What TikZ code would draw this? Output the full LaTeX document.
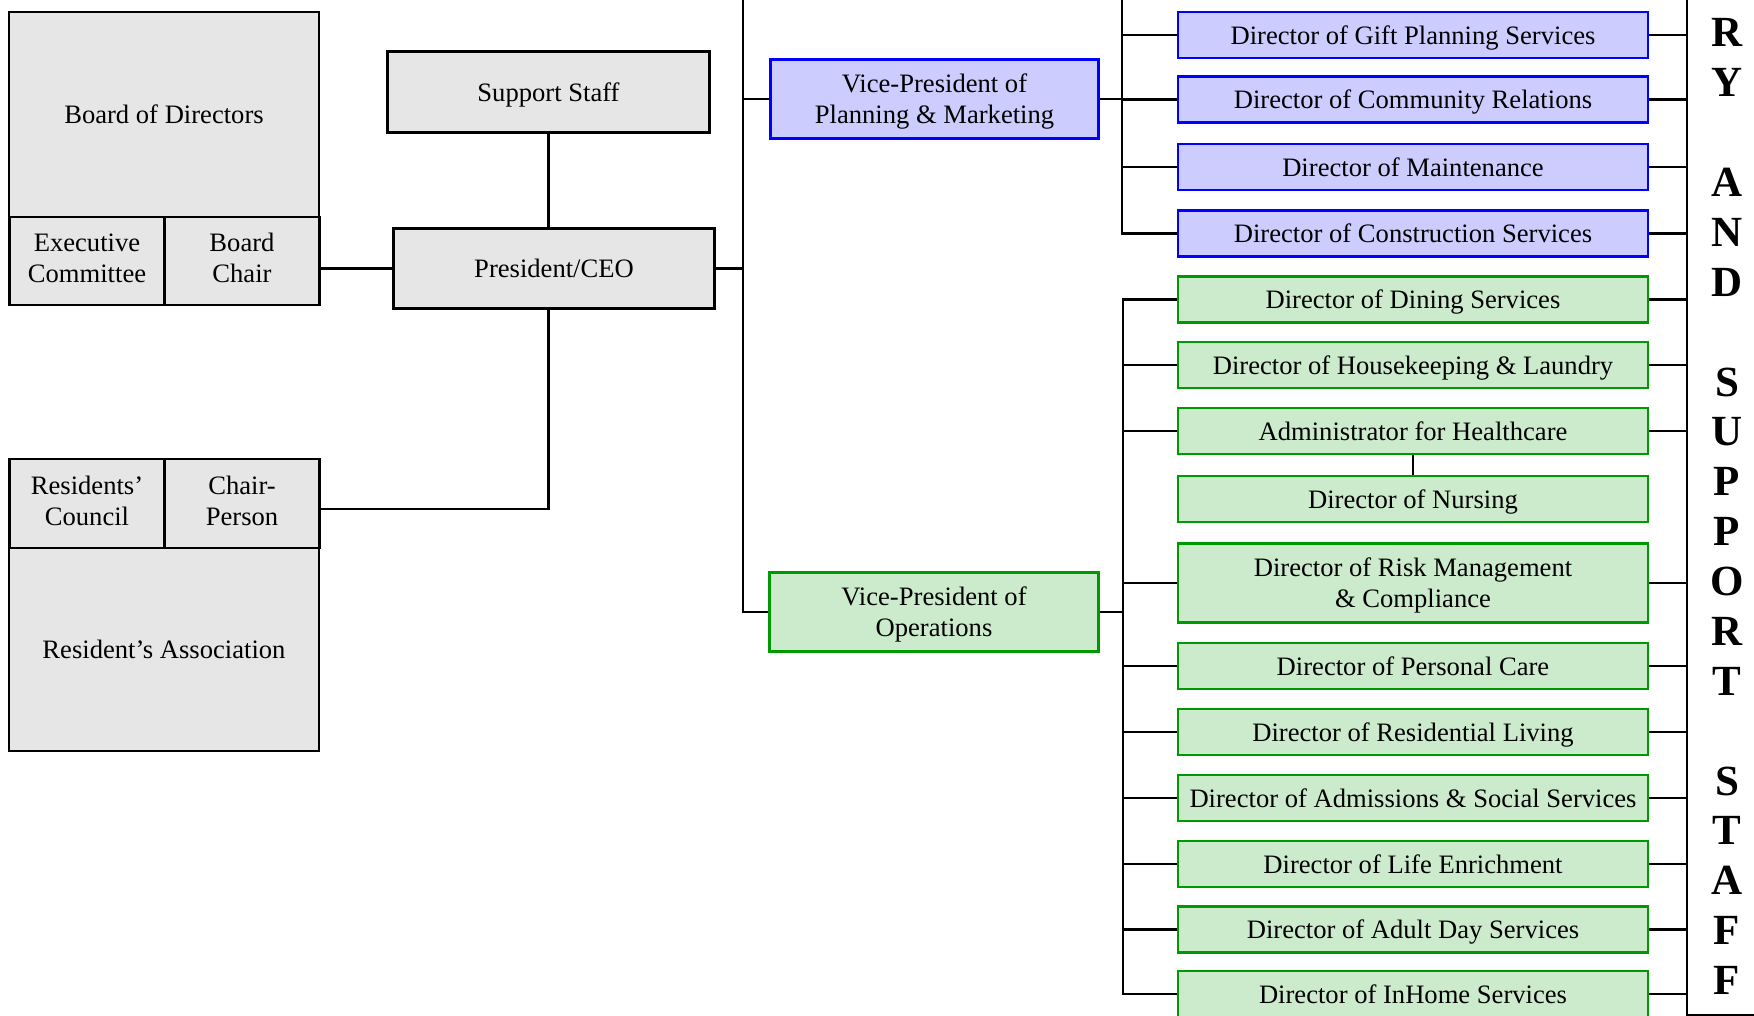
\documentclass[tikz,border=0pt]{standalone}
\usepackage{fontspec}
\setmainfont{Liberation Serif}
\definecolor{boxgray}{RGB}{230,230,230}
\definecolor{planfill}{RGB}{204,204,255}
\definecolor{planline}{RGB}{0,0,255}
\definecolor{opsfill}{RGB}{204,235,204}
\definecolor{opsline}{RGB}{0,153,0}

\begin{document}
\begin{tikzpicture}
[x=1pt,y=-1pt,
  lineDecorate/.style={-,line width=2.6pt},%
  boxDecorate/.style={shape=rectangle,draw,line width=2.6pt,inner sep=0pt,
    align=center,font=\fontsize{26.6}{31}\selectfont},%
  grayDecorate/.style={boxDecorate,fill=boxgray,draw=black},%
  pairDecorate/.style={grayDecorate,minimum width=155pt,minimum height=88pt,text depth=6pt},%
  planDecorate/.style={boxDecorate,fill=planfill,draw=planline,minimum width=470pt,text depth=0pt},%
  opsDecorate/.style={boxDecorate,fill=opsfill,draw=opsline,minimum width=470pt,text depth=0pt},%
  letterDecorate/.style={anchor=base,inner sep=0pt,font=\fontsize{43}{50}\selectfont\bfseries}]
\useasboundingbox (0,0) rectangle (1754,1016);
\clip (0,0) rectangle (1754,1016);
%% board, residents and president
\node (board) at (164,114.5) [grayDecorate,minimum width=310pt,minimum height=205pt] {Board of Directors};
\node (exec) at (87,261) [pairDecorate] {Executive\\Committee};
\node (chair) at (242,261) [pairDecorate] {Board\\Chair};
\node (council) at (87,503.5) [pairDecorate,minimum height=89pt] {Residents’\\Council};
\node (chairperson) at (242,503.5) [pairDecorate,minimum height=89pt] {Chair-\\Person};
\node (assoc) at (164,649.5) [grayDecorate,minimum width=310pt,minimum height=203pt] {Resident’s Association};
\node (support) at (548.5,92) [grayDecorate,minimum width=322pt,minimum height=81pt,text depth=0pt] {Support Staff};
\node (ceo) at (554,268.5) [grayDecorate,minimum width=321pt,minimum height=80pt] {President/CEO};
%% vice-presidents
\node (vpplan) at (934.5,99) [planDecorate,minimum width=328pt,minimum height=79pt] {Vice-President of\\Planning \& Marketing};
\node (vpops) at (934,612) [opsDecorate,minimum width=329pt,minimum height=79pt] {Vice-President of\\Operations};
%% directors
\foreach \nodename/\y/\txt in {
  gift/35/Director of Gift Planning Services,
  community/99.5/Director of Community Relations,
  maintenance/167/Director of Maintenance,
  construction/233.5/Director of Construction Services}
{
  \node (\nodename) at (1413,\y) [planDecorate,minimum height=46pt] {\txt};
}
\foreach \nodename/\y/\h/\txt in {
  dining/299.5/46/Director of Dining Services,
  housekeeping/365/46/Director of Housekeeping \& Laundry,
  health/431/46/Administrator for Healthcare,
  nursing/499/46/Director of Nursing,
  risk/583/79/Director of Risk Management\\\& Compliance,
  personal/666/46/Director of Personal Care,
  residential/732/46/Director of Residential Living,
  admissions/798/46/Director of Admissions \& Social Services,
  life/864/46/Director of Life Enrichment,
  adult/929.5/46/Director of Adult Day Services,
  inhome/994/46/Director of InHome Services}
{
  \node (\nodename) at (1413,\y) [opsDecorate,minimum height=\h pt] {\txt};
}
%% side strip
\foreach \ch/\row in {R/0,Y/1,A/3,N/4,D/5,S/7,U/8,P/9,P/10,O/11,R/12,T/13,
  S/15,T/16,A/17,F/18,F/19}
{
  \node (letter\row) at (1727,{47+49.87*\row}) [letterDecorate] {\ch};
}
\coordinate (trunk) at (743,0);
\coordinate (plantrunk) at (1122,0);
\coordinate (opstrunk) at (1123,0);
\coordinate (strip) at (1687,0);
\coordinate (stripcorner) at (1754,1015);
%% edges or lines
\draw[lineDecorate] (ceo.west) -- (ceo.west -| chair.east);
\draw[lineDecorate] (support.south) -- (support.south |- ceo.north);
\draw[lineDecorate] (support.south |- ceo.south) |- ([yshift=-5.5pt]chairperson.east);
\draw[lineDecorate] (trunk) |- (vpops.west);
\draw[lineDecorate] (ceo.east) -- (ceo.east -| trunk);
\draw[lineDecorate] (vpplan.west -| trunk) -- (vpplan.west);
\draw[lineDecorate] (plantrunk) |- (construction.west);
\draw[lineDecorate] (vpplan.east) -- (vpplan.east -| plantrunk);
\draw[lineDecorate] (dining.west) -| (opstrunk |- inhome.west) -- (inhome.west);
\draw[lineDecorate] (vpops.east) -- (vpops.east -| opstrunk);
\draw[lineDecorate] (health.south) -- (nursing.north);
\draw[lineDecorate] (strip) |- (stripcorner);
\path
\foreach \nodename in {gift, community, maintenance}
{
  (\nodename.west -| plantrunk) edge[lineDecorate] (\nodename.west)
};
\path
\foreach \nodename in {housekeeping, health, risk, personal, residential,
  admissions, life, adult}
{
  (\nodename.west -| opstrunk) edge[lineDecorate] (\nodename.west)
};
\path
\foreach \nodename in {gift, community, maintenance, construction, dining,
  housekeeping, health, risk, personal, residential, admissions, life, adult, inhome}
{
  (\nodename.east) edge[lineDecorate] (\nodename.east -| strip)
};
\end{tikzpicture}
\end{document}
